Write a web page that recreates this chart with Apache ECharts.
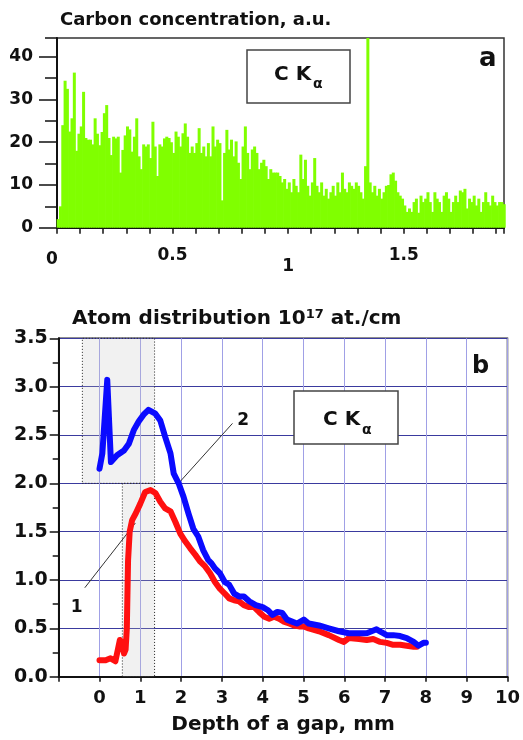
<!DOCTYPE html>
<html>
<head>
<meta charset="utf-8">
<script src="https://cdn.jsdelivr.net/npm/echarts@6/dist/echarts.min.js"></script>
<style>
html,body{margin:0;padding:0;background:#fff;}
#chart{width:523px;height:740px;}
</style>
</head>
<body>
<div id="chart"></div>
<script>
// ---------- Panel a: carbon concentration histogram ----------
const binWidth = 0.01; // mm per channel
const carbon = [
  2, 5, 24, 34.4, 32.5, 22.5, 25.6, 36.3, 18, 22, 23.7, 31.8, 21, 20.6, 20.6, 19.5, 25.6, 22, 19.3, 22.4,
  26.8, 28.7, 21, 17, 21.3, 20.9, 21.3, 12.9, 18.2, 21.6, 23.7, 23, 17.8, 21.3, 25.6, 16.7, 13.7, 19.5, 19, 19.5,
  16.3, 24.8, 19, 12.1, 19.5, 19, 20.9, 21.3, 21, 20,
  17.5, 22.5, 21.3, 19.0, 22.1, 24.4, 21.3, 17.5, 19.0, 17.5, 19.8, 23.3, 17.5, 19.0, 16.7, 19.8, 16.7, 23.7, 19.0, 20.6,
  19.8, 6.4, 17.5, 22.9, 18.3, 20.6, 16.7, 20.2, 15.2, 11.4, 19.0, 23.7, 17.5, 13.7, 18.3, 19.0, 17.5, 13.7, 15.2, 15.9,
  14.4, 11.4, 13.7, 12.9, 12.9, 12.9, 12.1, 10.6, 11.4,
  9.1, 10.6, 8.3, 11.4, 9.8, 8.3, 17.1, 11.4, 15.9, 9.8, 7.5, 10.6, 16.3, 9.8, 8.3, 10.6, 7.5, 9.1, 6.8, 8.3,
  9.8, 7.5, 10.6, 8.3, 12.9, 9.1, 8.3, 10.6, 9.8, 9.1, 10.6, 9.8, 8.3, 6.8, 14.4, 46, 10.6, 8.3, 9.8, 7.5,
  9.1, 6.8, 8.3, 9.8, 10, 12.5, 12.9, 11,
  8.3, 7.5, 6.8, 5.2, 3.7, 4.5, 3.7, 6.0, 6.8, 3.5, 7.5, 6.0, 6.8, 8.3, 6.0, 3.7, 8.3, 6.8, 6.0, 3.7,
  7.5, 8.3, 6.8, 3.7, 6.0, 7.5, 6.0, 8.7, 8.3, 9.1, 4.5, 6.8, 6.0, 7.5, 5.2, 6.8, 3.7, 6.0, 8.3, 6.0,
  5.2, 7.5, 6.0, 5.2, 6.0, 6.0, 5.5
];
const aXLabels = [0, 0.5, 1, 1.5];
const aYLabels = [0, 10, 20, 30, 40];

// ---------- Panel b: atom distribution ----------
const curve2X = [0, 0.07, 0.19, 0.23, 0.28, 0.43, 0.60, 0.72, 0.84, 0.96, 1.08, 1.20, 1.37, 1.49, 1.61, 1.74, 1.82, 1.94,
  2.06, 2.18, 2.30, 2.42, 2.54, 2.66, 2.75, 2.83, 2.95, 3.07, 3.18, 3.30, 3.42, 3.54, 3.67, 3.83, 4.00, 4.12, 4.24,
  4.36, 4.48, 4.60, 4.72, 4.84, 5.01, 5.13, 5.38, 5.62, 5.87, 6.11, 6.36, 6.55, 6.67, 6.79, 6.91, 7.04, 7.20, 7.37,
  7.53, 7.70, 7.82, 7.94, 8.00];
const curve2Y = [2.15, 2.31, 3.07, 3.05, 2.22, 2.29, 2.34, 2.41, 2.55, 2.64, 2.71, 2.76, 2.72, 2.65, 2.48, 2.31, 2.10, 2.00,
  1.86, 1.69, 1.53, 1.45, 1.31, 1.21, 1.17, 1.12, 1.07, 0.98, 0.95, 0.86, 0.83, 0.83, 0.78, 0.74, 0.72, 0.69, 0.64,
  0.67, 0.66, 0.59, 0.57, 0.55, 0.59, 0.55, 0.53, 0.50, 0.47, 0.45, 0.45, 0.45, 0.47, 0.49, 0.46, 0.43, 0.43, 0.42,
  0.40, 0.36, 0.32, 0.35, 0.35];
const curve1X = [0, 0.15, 0.27, 0.39, 0.45, 0.50, 0.55, 0.60, 0.64, 0.67, 0.70, 0.74, 0.80, 0.89, 1.00, 1.12, 1.25, 1.37,
  1.49, 1.61, 1.74, 1.86, 1.98, 2.10, 2.22, 2.35, 2.47, 2.59, 2.71, 2.83, 2.95, 3.07, 3.18, 3.30, 3.42, 3.54, 3.67,
  3.79, 3.91, 4.04, 4.16, 4.28, 4.40, 4.52, 4.65, 4.77, 4.89, 5.01, 5.13, 5.38, 5.62, 5.87, 5.99, 6.11, 6.36, 6.55,
  6.71, 6.88, 7.04, 7.20, 7.37, 7.53, 7.70, 7.78];
const curve1Y = [0.17, 0.17, 0.19, 0.16, 0.28, 0.38, 0.36, 0.24, 0.28, 0.5, 1.2, 1.5, 1.62, 1.69, 1.79, 1.91, 1.93, 1.90,
  1.81, 1.74, 1.71, 1.60, 1.48, 1.40, 1.33, 1.26, 1.19, 1.14, 1.07, 0.98, 0.91, 0.86, 0.81, 0.79, 0.78, 0.74, 0.72,
  0.72, 0.67, 0.62, 0.60, 0.62, 0.60, 0.57, 0.55, 0.53, 0.52, 0.52, 0.50, 0.47, 0.43, 0.38, 0.36, 0.40, 0.39, 0.38,
  0.39, 0.36, 0.35, 0.33, 0.33, 0.32, 0.31, 0.31];
const shadedUpper = [[-0.42, 2.0], [1.35, 3.5]];
const shadedLower = [[0.56, 0.0], [1.35, 2.0]];
const leader1 = [[-0.36, 0.92], [0.88, 1.59]];
const leader2 = [[3.26, 2.62], [1.98, 2.02]];
const curveLabels = [[-0.56, 0.72, '1'], [3.52, 2.65, '2']];
const bXLabels = [0, 1, 2, 3, 4, 5, 6, 7, 8, 9, 10];

const FONT = 'DejaVu Sans';
const zip = (xs, ys) => xs.map((x, i) => [x, ys[i]]);
const carbonData = carbon.map((v, i) => [(i + 0.5) * binWidth, v]);

const chart = echarts.init(document.getElementById('chart'), null, {renderer: 'canvas'});
const option = {
  animation: false,
  backgroundColor: '#fff',
  grid: [
    {left: 57, right: 19, top: 38, height: 189.7, show: true, borderColor: '#333', borderWidth: 1.5, backgroundColor: 'transparent'},
    {left: 58.7, right: 15.3, top: 338.3, height: 338.4, show: true, borderColor: '#222', borderWidth: 1.5, backgroundColor: 'transparent'}
  ],
  xAxis: [
    {
      type: 'value', gridIndex: 0, min: 0, max: 1.934, interval: 0.1,
      axisLine: {show: true, onZero: false, lineStyle: {color: '#111', width: 2}},
      axisTick: {show: true, length: 6, lineStyle: {color: '#111', width: 1.5}},
      splitLine: {show: false},
      axisLabel: {
        customValues: aXLabels, margin: 19,
        fontFamily: FONT, fontWeight: 'bold', fontSize: 17, color: '#111',
        formatter: v => v === 0 ? '{z|0}' : (v === 1 ? '{o|1}' : '{h|' + v + '}'),
        rich: {
          z: {fontFamily: FONT, fontWeight: 'bold', fontSize: 17, color: '#111', padding: [4, 10, 0, 0]},
          o: {fontFamily: FONT, fontWeight: 'bold', fontSize: 17, color: '#111', padding: [11, 0, 0, 0]},
          h: {fontFamily: FONT, fontWeight: 'bold', fontSize: 17, color: '#111'}
        }
      }
    },
    {
      type: 'value', gridIndex: 1, min: -1, max: 10, interval: 1,
      axisLine: {show: true, onZero: false, lineStyle: {color: '#111', width: 2}},
      axisTick: {show: true, length: 5, lineStyle: {color: '#111', width: 1.5}},
      splitLine: {show: true, lineStyle: {color: '#a0a0e6', width: 1}},
      axisLabel: {customValues: bXLabels, margin: 13, fontFamily: FONT, fontWeight: 'bold', fontSize: 18, color: '#111'},
      name: 'Depth of a gap, mm', nameLocation: 'middle', nameGap: 38,
      nameTextStyle: {fontFamily: FONT, fontWeight: 'bold', fontSize: 20, color: '#111'}
    }
  ],
  yAxis: [
    {
      type: 'value', gridIndex: 0, min: 0, max: 44.4, interval: 5,
      axisLine: {show: true, onZero: false, lineStyle: {color: '#111', width: 2}},
      axisTick: {show: true, length: 12, lineStyle: {color: '#111', width: 1.5}},
      splitLine: {show: false},
      axisLabel: {customValues: aYLabels, margin: 24, fontFamily: FONT, fontWeight: 'bold', fontSize: 17, color: '#111'}
    },
    {
      type: 'value', gridIndex: 0, min: 0, max: 44.4, position: 'left', offset: 0,
      axisLine: {show: false, onZero: false},
      axisTick: {show: true, customValues: aYLabels, length: 18, lineStyle: {color: '#111', width: 1.5}},
      axisLabel: {show: false},
      splitLine: {show: false}
    },
    {
      type: 'value', gridIndex: 1, min: 0, max: 3.5, interval: 0.5,
      axisLine: {show: true, onZero: false, lineStyle: {color: '#111', width: 2}},
      axisTick: {show: true, length: 9, lineStyle: {color: '#111', width: 1.5}},
      minorTick: {show: true, splitNumber: 2, length: 6, lineStyle: {color: '#111', width: 1.5}},
      splitLine: {show: true, lineStyle: {color: '#3a3a9e', width: 1}},
      axisLabel: {margin: 11, fontFamily: FONT, fontWeight: 'bold', fontSize: 19, color: '#111',
        formatter: v => v.toFixed(1)}
    }
  ],
  series: [
    {
      type: 'bar', xAxisIndex: 0, yAxisIndex: 0, data: carbonData,
      barWidth: 3, itemStyle: {color: '#80ff00'}, clip: true, silent: true
    },
    {
      type: 'line', xAxisIndex: 1, yAxisIndex: 2, data: [], silent: true,
      markArea: {
        silent: true,
        itemStyle: {color: 'rgba(190,190,190,0.22)', borderColor: '#222', borderWidth: 1, borderType: [1, 2]},
        data: [
          [{coord: shadedUpper[0]}, {coord: shadedUpper[1]}],
          [{coord: shadedLower[0]}, {coord: shadedLower[1]}]
        ]
      }
    },
    {
      type: 'line', xAxisIndex: 1, yAxisIndex: 2, data: leader1, symbol: 'none', silent: true,
      lineStyle: {color: '#333', width: 1}
    },
    {
      type: 'line', xAxisIndex: 1, yAxisIndex: 2, data: leader2, symbol: 'none', silent: true,
      lineStyle: {color: '#333', width: 1}
    },
    {
      type: 'line', xAxisIndex: 1, yAxisIndex: 2, data: zip(curve1X, curve1Y), symbol: 'none', silent: true,
      lineStyle: {color: '#ff1010', width: 6, join: 'round', cap: 'round'}, z: 3
    },
    {
      type: 'line', xAxisIndex: 1, yAxisIndex: 2, data: zip(curve2X, curve2Y), symbol: 'none', silent: true,
      lineStyle: {color: '#0a0aff', width: 6, join: 'round', cap: 'round'}, z: 4
    },
    {
      type: 'scatter', xAxisIndex: 1, yAxisIndex: 2, data: curveLabels, symbolSize: 0, silent: true,
      itemStyle: {color: '#111', opacity: 1},
      label: {show: true, position: 'inside', formatter: p => p.value[2], opacity: 1,
        fontFamily: FONT, fontWeight: 'bold', fontSize: 17, color: '#111'}
    }
  ],
  graphic: [
    {type: 'text', left: 60, top: 11, style: {text: 'Carbon concentration, a.u.', fontFamily: FONT, fontWeight: 'bold', fontSize: 18, fill: '#111'}},
    {type: 'text', left: 72, top: 308, style: {
      text: 'Atom distribution 10{s|17} at./cm', fontFamily: FONT, fontWeight: 'bold', fontSize: 20, fill: '#111',
      rich: {s: {fontFamily: FONT, fontWeight: 'bold', fontSize: 13, fill: '#111', padding: [0, 0, 9, 0]}}
    }},
    {type: 'rect', shape: {x: 247, y: 50, width: 103, height: 53}, style: {fill: '#fff', stroke: '#444', lineWidth: 1.5}, z: 10},
    {type: 'text', left: 274, top: 65, z: 11, style: {text: 'C K', fontFamily: FONT, fontWeight: 'bold', fontSize: 20, fill: '#111'}},
    {type: 'text', left: 313, top: 77, z: 11, style: {text: 'α', fontFamily: FONT, fontWeight: 'bold', fontSize: 14, fill: '#111'}},
    {type: 'text', left: 479, top: 46, z: 11, style: {text: 'a', fontFamily: FONT, fontWeight: 'bold', fontSize: 26, fill: '#111'}},
    {type: 'rect', shape: {x: 294, y: 391, width: 104, height: 53}, style: {fill: '#fff', stroke: '#444', lineWidth: 1.5}, z: 10},
    {type: 'text', left: 323, top: 410, z: 11, style: {text: 'C K', fontFamily: FONT, fontWeight: 'bold', fontSize: 20, fill: '#111'}},
    {type: 'text', left: 362, top: 423, z: 11, style: {text: 'α', fontFamily: FONT, fontWeight: 'bold', fontSize: 14, fill: '#111'}},
    {type: 'text', left: 472, top: 355, z: 11, style: {text: 'b', fontFamily: FONT, fontWeight: 'bold', fontSize: 24, fill: '#111'}}
  ]
};
chart.setOption(option);
</script>
</body>
</html>
